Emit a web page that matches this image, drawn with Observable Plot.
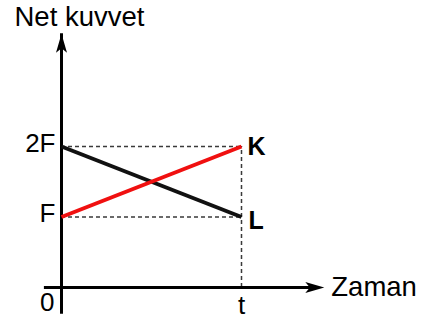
<!DOCTYPE html>
<html>
<head>
<meta charset="utf-8">
<script src="https://cdn.jsdelivr.net/npm/d3@7"></script>
<script src="https://cdn.jsdelivr.net/npm/@observablehq/plot@0.6"></script>
<style>
  html, body { margin: 0; padding: 0; background: #fff; }
  svg { display: block; }
</style>
</head>
<body>
<div id="chart"></div>
<script>
// --- data (time in units of t, force in units of F) ---
const times = [0, 1];            // 0 → t
const seriesK = [1, 2];          // K: F → 2F
const seriesL = [2, 1];          // L: 2F → F
const yTickValues = [1, 2];
const yTickLabels = ["F", "2F"];
const xTickValues = [0, 1];
const xTickLabels = ["0", "t"];
const seriesNames = ["K", "L"];
const axisTitles = { y: "Net kuvvet", x: "Zaman" };

const kData = times.map((t, i) => ({ t, v: seriesK[i] }));
const lData = times.map((t, i) => ({ t, v: seriesL[i] }));

// axis extents (layout)
const xAxisStart = -0.095, xAxisEnd = 1.46;
const yAxisStart = -0.21, yAxisEnd = 3.6;

const arrowUp = {
  draw(ctx, size) {
    const s = Math.sqrt(size / Math.PI);
    ctx.moveTo(0, 0);
    ctx.lineTo(-0.55 * s, 1.9 * s);
    ctx.lineTo(0, 1.45 * s);
    ctx.lineTo(0.55 * s, 1.9 * s);
    ctx.closePath();
  }
};
const arrowRight = {
  draw(ctx, size) {
    const s = Math.sqrt(size / Math.PI);
    ctx.moveTo(0, 0);
    ctx.lineTo(-1.9 * s, -0.55 * s);
    ctx.lineTo(-1.45 * s, 0);
    ctx.lineTo(-1.9 * s, 0.55 * s);
    ctx.closePath();
  }
};

const font = "Liberation Sans, Arial, sans-serif";
const dash = { stroke: "#3a3a3a", strokeWidth: 1.5, strokeDasharray: "4,3" };

const chart = Plot.plot({
  width: 424,
  height: 320,
  margin: 0,
  style: { fontFamily: font, background: "#fff" },
  x: { domain: [0, 1], range: [61, 241], axis: null },
  y: { domain: [0, 2], range: [287, 146], axis: null },
  marks: [
    // dashed guides
    Plot.ruleY(yTickValues, { x1: 0, x2: times[1], ...dash }),
    Plot.ruleX([times[1]], { y1: 0, y2: Math.max(...seriesK), ...dash }),
    // axes
    Plot.ruleX([0], { y1: yAxisStart, y2: yAxisEnd, stroke: "#000", strokeWidth: 3, insetTop: 12 }),
    Plot.ruleY([0], { x1: xAxisStart, x2: xAxisEnd, stroke: "#000", strokeWidth: 3, insetRight: 12 }),
    Plot.dot([{ x: 0, y: yAxisEnd }], { x: "x", y: "y", symbol: arrowUp, r: 10, fill: "#000", stroke: "none" }),
    Plot.dot([{ x: xAxisEnd, y: 0 }], { x: "x", y: "y", symbol: arrowRight, r: 10, fill: "#000", stroke: "none" }),
    // series
    Plot.line(lData, { x: "t", y: "v", stroke: "#111", strokeWidth: 4, strokeLinecap: "butt" }),
    Plot.line(kData, { x: "t", y: "v", stroke: "#f01010", strokeWidth: 4, strokeLinecap: "butt" }),
    // y tick labels
    Plot.text(yTickValues, { x: 0, y: d => d, text: (d, i) => yTickLabels[i], textAnchor: "end", dx: -6, dy: -3, fontSize: 26, fill: "#000" }),
    // x tick labels
    Plot.text([xTickValues[0]], { x: d => d, y: 0, text: [xTickLabels[0]], textAnchor: "end", lineAnchor: "top", dx: -7, dy: 5, fontSize: 26, fill: "#000" }),
    Plot.text([xTickValues[1]], { x: d => d, y: 0, text: [xTickLabels[1]], textAnchor: "middle", lineAnchor: "top", dy: 8, fontSize: 26, fill: "#000" }),
    // series labels
    Plot.text([{ t: times[1], v: seriesK[1], n: seriesNames[0] }], { x: "t", y: "v", text: "n", textAnchor: "start", dx: 6, dy: 0, fontSize: 25, fontWeight: "bold", fill: "#000" }),
    Plot.text([{ t: times[1], v: seriesL[1], n: seriesNames[1] }], { x: "t", y: "v", text: "n", textAnchor: "start", dx: 7, dy: 4, fontSize: 25, fontWeight: "bold", fill: "#000" }),
    // axis titles
    Plot.text([axisTitles.y], { frameAnchor: "top-left", text: d => d, dx: 14, dy: 6, textAnchor: "start", lineAnchor: "top", fontSize: 27.5, fill: "#000" }),
    Plot.text([{ x: xAxisEnd, y: 0, s: axisTitles.x }], { x: "x", y: "y", text: "s", textAnchor: "start", dx: 7, dy: 0, fontSize: 27.5, fill: "#000" })
  ]
});
document.getElementById("chart").appendChild(chart);
</script>
</body>
</html>
